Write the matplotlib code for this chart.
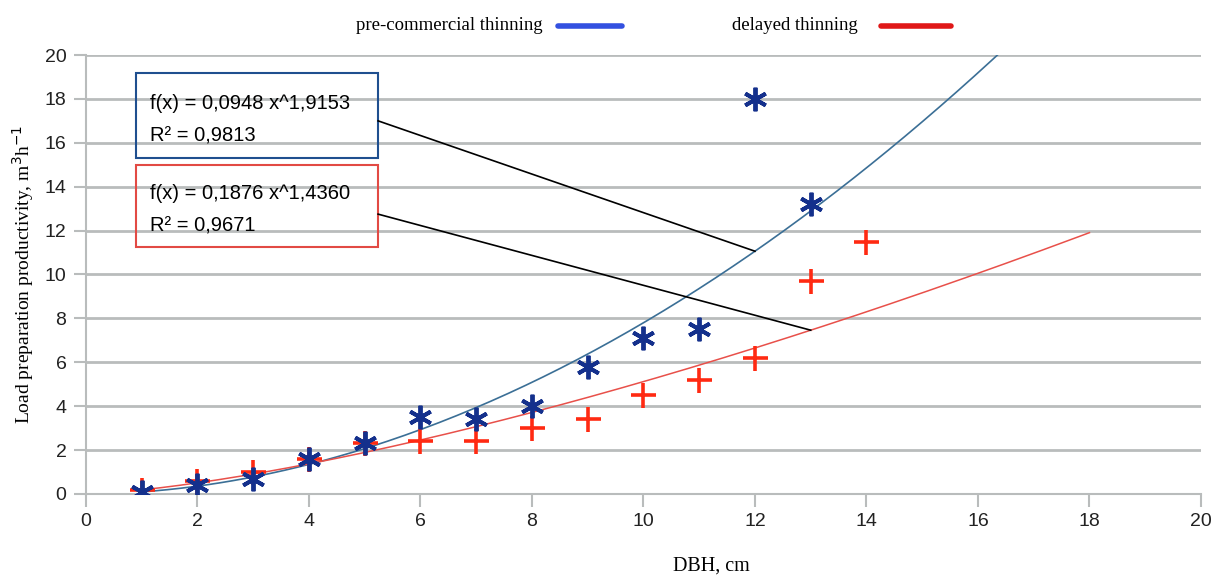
import numpy as np
import matplotlib
matplotlib.use('Agg')
import matplotlib.pyplot as plt
from matplotlib.lines import Line2D
from matplotlib.patches import Rectangle

# measured points
dbh_pct = [1, 2, 3, 4, 5, 6, 7, 8, 9, 10, 11, 12, 13]
prod_pct = [0.1, 0.4, 0.7, 1.6, 2.3, 3.5, 3.4, 4.0, 5.8, 7.1, 7.5, 18.0, 13.2]
dbh_del = [1, 2, 3, 4, 5, 6, 7, 8, 9, 10, 11, 12, 13, 14]
prod_del = [0.2, 0.6, 1.0, 1.6, 2.3, 2.4, 2.4, 3.0, 3.4, 4.5, 5.2, 6.2, 9.7, 11.5]

# power trend lines  f(x) = a * x^b
a_pct, b_pct, r2_pct = 0.0948, 1.9153, 0.9813
a_del, b_del, r2_del = 0.1876, 1.4360, 0.9671
xfit_pct = np.linspace(1, 16.4, 200)
xfit_del = np.linspace(1, 18, 200)

blue_mk = '#14308c'
red_mk = '#ff2a12'
blue_ln = '#3b6f96'
red_ln = '#e8504a'
grid_c = '#b9bcbc'

fig = plt.figure(figsize=(12.26, 5.76), dpi=100)
ax = fig.add_axes([0.0701, 0.1424, 0.9095, 0.7621])

ax.plot(xfit_pct, a_pct * xfit_pct ** b_pct, color=blue_ln, lw=1.2, zorder=3)
ax.plot(xfit_del, a_del * xfit_del ** b_del, color=red_ln, lw=1.1, zorder=3)
ax.plot(dbh_del, prod_del, ls='none', marker='+', ms=18, mew=2.6, color=red_mk, zorder=4)
ax.plot(dbh_pct, prod_pct, ls='none', marker=(6, 2, 0), ms=17, mew=2.8, color=blue_mk, zorder=5)

ax.set_xlim(0, 20)
ax.set_ylim(0, 20)
ax.set_xticks(range(0, 21, 2))
ax.set_yticks(range(0, 21, 2))
ax.grid(axis='y', color=grid_c, lw=2)
ax.set_axisbelow(True)
for s in ['top', 'right']:
    ax.spines[s].set_visible(False)
for s in ['left', 'bottom']:
    ax.spines[s].set_color(grid_c)
    ax.spines[s].set_linewidth(1.5)
ax.tick_params(axis='both', colors=grid_c, width=1.5, length=9, labelsize=14,
               labelcolor='#222222', pad=5)
for lab in ax.get_xticklabels() + ax.get_yticklabels():
    lab.set_family('Liberation Sans')

ax.set_ylabel('Load preparation productivity, m$^3$h$^{-1}$', family='Liberation Serif',
              fontsize=14, labelpad=6)
fig.text(0.58, 0.018, 'DBH, cm', family='Liberation Serif', fontsize=14.5,
         ha='center', va='center')

# equation boxes
ax.add_patch(Rectangle((0.9, 15.3), 4.34, 3.9, fill=False, ec='#1f4f8f', lw=1.5, zorder=6))
ax.add_patch(Rectangle((0.9, 11.25), 4.34, 3.75, fill=False, ec='#e24a44', lw=1.5, zorder=6))
ax.text(1.15, 17.8, 'f(x) = 0,0948 x^1,9153', family='Liberation Sans', fontsize=14.5, va='center')
ax.text(1.15, 16.3, 'R² = 0,9813', family='Liberation Sans', fontsize=14.5, va='center')
ax.text(1.15, 13.7, 'f(x) = 0,1876 x^1,4360', family='Liberation Sans', fontsize=14.5, va='center')
ax.text(1.15, 12.2, 'R² = 0,9671', family='Liberation Sans', fontsize=14.5, va='center')
ax.plot([5.24, 12.0], [17.0, a_pct * 12.0 ** b_pct], color='black', lw=1.2, zorder=6)
ax.plot([5.24, 13.0], [12.75, a_del * 13.0 ** b_del], color='black', lw=1.2, zorder=6)

# legend on top
fig.text(0.443, 0.955, 'pre-commercial thinning', family='Liberation Serif', fontsize=13.5,
         ha='right', va='center')
fig.add_artist(Line2D([0.455, 0.507], [0.955, 0.955], color='#3350e0', lw=4,
                      solid_capstyle='round', transform=fig.transFigure))
fig.text(0.700, 0.955, 'delayed thinning', family='Liberation Serif', fontsize=13.5,
         ha='right', va='center')
fig.add_artist(Line2D([0.719, 0.776], [0.955, 0.955], color='#e01818', lw=4,
                      solid_capstyle='round', transform=fig.transFigure))

fig.savefig('out.png', dpi=100)
